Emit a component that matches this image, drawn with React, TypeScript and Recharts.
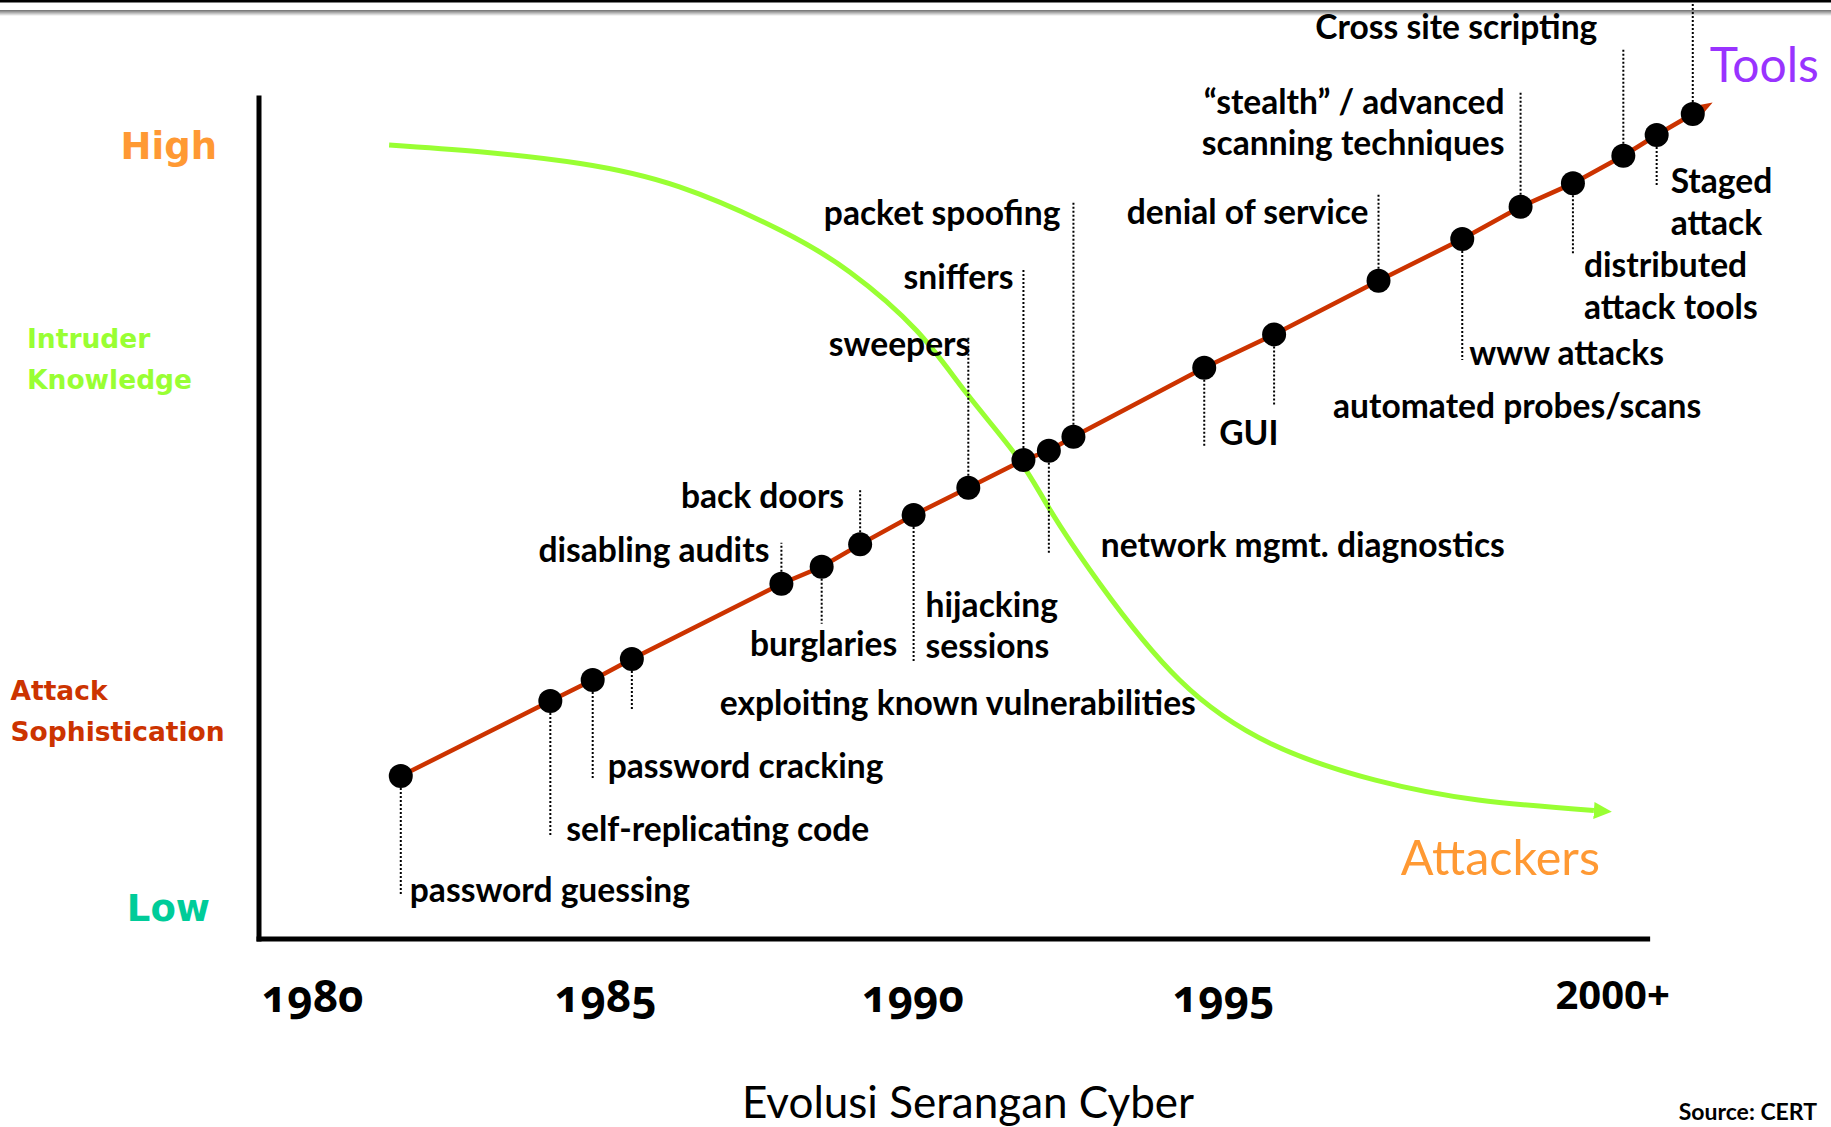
import { ComposedChart, Line, XAxis, YAxis, ReferenceLine, LabelList } from 'recharts'

// attack sophistication timeline (x: position on the timeline, y: sophistication level 0-100)
const eventNames = [
  'password guessing',
  'self-replicating code',
  'password cracking',
  'exploiting known vulnerabilities',
  'disabling audits',
  'burglaries',
  'back doors',
  'hijacking\nsessions',
  'sweepers',
  'sniffers',
  'network mgmt. diagnostics',
  'packet spoofing',
  'GUI',
  'automated probes/scans',
  'denial of service',
  'www attacks',
  '“stealth” / advanced\nscanning techniques',
  'distributed\nattack tools',
  'Cross site scripting',
  'Staged\nattack',
  'Tools',
]
const eventX = [10.21, 20.98, 24.03, 26.85, 37.62, 40.52, 43.29, 47.14, 51.08, 55.05, 56.88, 58.65, 68.07, 73.1, 80.62, 86.65, 90.85, 94.62, 98.25, 100.65, 103.25]
const eventY = [19.38, 28.29, 30.79, 33.29, 42.25, 44.26, 46.93, 50.42, 53.67, 56.96, 58.06, 59.72, 67.93, 71.9, 78.28, 83.24, 87.08, 89.86, 93.15, 95.61, 98.11]

// intruder knowledge curve
const knowledgeX = [9.37, 15.9, 23.13, 30.28, 37.51, 42.56, 47.35, 50.97, 54.58, 56.94, 60.56, 66.27, 72.92, 80.4, 87.81, 96.13]
const knowledgeY = [94.42, 93.61, 92.22, 89.44, 84.31, 79.3, 72.36, 64.86, 57.36, 51.11, 42.22, 30.83, 23.19, 18.89, 16.53, 15.28]

const yearTicks = [3.87, 24.98, 47.1, 69.47, 97.48]
const yearLabels = ['1980', '1985', '1990', '1995', '2000+']

const levelTicks = [3.6, 27.15, 68.96, 94.3]
const levelLabels = ['Low', 'Attack\nSophistication', 'Intruder\nKnowledge', 'High']

const attackData = eventNames.map((name, i) => ({ name, x: eventX[i], y: eventY[i] }))
const knowledgeData = knowledgeX.map((x, i) => ({ x, y: knowledgeY[i], name: i === knowledgeX.length - 1 ? 'Attackers' : '' }))

const LABEL_FONT = 'Lato, "Open Sans", sans-serif'
const LEVEL_FONT = '"DejaVu Sans", Verdana, sans-serif'
const RED = '#CC3300'
const GREEN = '#99FF33'

// where each annotation sits relative to its dot (px)
const labelLayout: { anchor: 'start' | 'end' | 'middle'; dx: number; dy: number[]; lead: number }[] = [
  { anchor: 'start', dx: 9, dy: [113], lead: 120 },
  { anchor: 'start', dx: 16, dy: [127], lead: 135 },
  { anchor: 'start', dx: 15, dy: [85], lead: 100 },
  { anchor: 'start', dx: 88, dy: [43], lead: 51 },
  { anchor: 'end', dx: -12, dy: [-35], lead: -41 },
  { anchor: 'middle', dx: 2, dy: [76], lead: 57 },
  { anchor: 'end', dx: -16, dy: [-49], lead: -55 },
  { anchor: 'start', dx: 12, dy: [89, 130], lead: 148 },
  { anchor: 'end', dx: 2, dy: [-145], lead: -150 },
  { anchor: 'end', dx: -10, dy: [-184], lead: -190 },
  { anchor: 'start', dx: 52, dy: [93], lead: 104 },
  { anchor: 'end', dx: -13, dy: [-225], lead: -236 },
  { anchor: 'start', dx: 15, dy: [64], lead: 79 },
  { anchor: 'start', dx: 59, dy: [71], lead: 71 },
  { anchor: 'end', dx: -10, dy: [-70], lead: -86 },
  { anchor: 'start', dx: 7, dy: [113], lead: 121 },
  { anchor: 'end', dx: -16, dy: [-106, -65], lead: -115 },
  { anchor: 'start', dx: 11, dy: [81, 123], lead: 70 },
  { anchor: 'end', dx: -26, dy: [-130], lead: -108 },
  { anchor: 'start', dx: 14, dy: [45, 87], lead: 52 },
  { anchor: 'start', dx: 17, dy: [-50], lead: -114 },
]

const levelStyles = [
  { color: '#00CC99', size: 37, anchor: 'end', dx: -49, dy: [0] },
  { color: RED, size: 26.5, anchor: 'start', dx: -248.5, dy: [-20.5, 20.5] },
  { color: GREEN, size: 26.5, anchor: 'start', dx: -232, dy: [-20.5, 20.5] },
  { color: '#FF9933', size: 37, anchor: 'end', dx: -42, dy: [0] },
]

const LevelTick = (p: any) => {
  const i = levelTicks.indexOf(p.payload.value)
  if (i < 0) return <g />
  const st = levelStyles[i]
  return (
    <g>
      {levelLabels[i].split('\n').map((ln, k) => (
        <text key={k} x={p.x + st.dx} y={p.y + st.dy[k]} textAnchor={st.anchor} dominantBaseline="central"
          fill={st.color} fontSize={st.size} fontWeight="bold" fontFamily={LEVEL_FONT}>{ln}</text>
      ))}
    </g>
  )
}

const YearTick = (p: any) => {
  const i = yearTicks.indexOf(p.payload.value)
  if (i < 0) return <g />
  const last = i === yearTicks.length - 1
  return (
    <text x={p.x} y={p.y + (last ? 70 : 73)} textAnchor="middle" fill="#000" fontSize={last ? 40 : 44} fontWeight="bold"
      fontFamily={'"Open Sans", Lato, sans-serif'} style={{ fontVariantNumeric: last ? 'normal' : 'oldstyle-nums' }}>{yearLabels[i]}</text>
  )
}

const renderDot = (p: any) => <circle key={`dot-${p.index}`} cx={p.cx} cy={p.cy} r={12} fill="#000" />

const renderAnnotation = (p: any) => {
  const i = p.index
  const lay = labelLayout[i]
  if (!lay) return null
  const x = Number(p.x)
  const y = Number(p.y)
  const isTools = i === eventNames.length - 1
  return (
    <g key={`ann-${i}`}>
      <line x1={x} y1={y} x2={x} y2={y + lay.lead} stroke="#000" strokeWidth={2} strokeDasharray="2 2" />
      {String(p.value).split('\n').map((ln, k) => (
        <text key={k} x={x + lay.dx} y={y + lay.dy[k]} textAnchor={lay.anchor} dominantBaseline="central"
          fill={isTools ? '#9933FF' : '#000'} fontSize={isTools ? 48 : 33.6} fontWeight={isTools ? 'normal' : 'bold'}
          fontFamily={LABEL_FONT}>{ln}</text>
      ))}
    </g>
  )
}

const renderAttackers = (p: any) => {
  if (!p.value) return null
  return (
    <text key="attackers" x={Number(p.x) + 6} y={Number(p.y) + 45} textAnchor="end" dominantBaseline="central"
      fill="#FF9933" fontSize={48.5} fontFamily={LABEL_FONT}>{p.value}</text>
  )
}

export default function App() {
  return (
    <div style={{ position: 'absolute', left: 0, top: 0, width: 1831, height: 1127, background: '#fff' }}>
      <ComposedChart width={1831} height={1127} margin={{ top: 14, right: 44.5, bottom: 0, left: 0 }}>
        <defs>
          <linearGradient id="shade" x1="0" y1="0" x2="0" y2="1">
            <stop offset="0%" stopColor="#6f6f6f" />
            <stop offset="100%" stopColor="#ffffff" />
          </linearGradient>
          <marker id="redArrow" markerWidth="26" markerHeight="18" refX="0" refY="9" orient="auto" markerUnits="userSpaceOnUse">
            <path d="M0,1 L23,9 L0,17 Z" fill={RED} />
          </marker>
          <marker id="greenArrow" markerWidth="20" markerHeight="18" refX="0" refY="9" orient="auto" markerUnits="userSpaceOnUse">
            <path d="M0,0.5 L18,9 L0,17.5 Z" fill={GREEN} />
          </marker>
        </defs>
        <rect x={0} y={0} width={1831} height={2.5} fill="#000" />
        <rect x={0} y={10} width={1831} height={6} fill="url(#shade)" />
        <XAxis type="number" dataKey="x" domain={[0, 110]} ticks={yearTicks} interval={0} height={188}
          axisLine={false} tickLine={false} tickSize={0} tickMargin={0} tick={<YearTick />} />
        <YAxis type="number" dataKey="y" domain={[0, 110]} ticks={levelTicks} interval={0} width={259}
          axisLine={false} tickLine={false} tickSize={0} tickMargin={0} tick={<LevelTick />} />
        <ReferenceLine segment={[{ x: 0, y: 0 }, { x: 0, y: 100 }]} stroke="#000" strokeWidth={5} strokeLinecap="square" ifOverflow="visible" />
        <ReferenceLine segment={[{ x: 0, y: 0 }, { x: 100, y: 0 }]} stroke="#000" strokeWidth={5} strokeLinecap="square" ifOverflow="visible" />
        <Line data={attackData} dataKey="y" type="linear" stroke={RED} strokeWidth={4.5} dot={renderDot} activeDot={false}
          markerEnd="url(#redArrow)" isAnimationActive={false}>
          <LabelList dataKey="name" content={renderAnnotation} />
        </Line>
        <Line data={knowledgeData} dataKey="y" type="natural" stroke={GREEN} strokeWidth={5} dot={false} activeDot={false}
          markerEnd="url(#greenArrow)" isAnimationActive={false}>
          <LabelList dataKey="name" content={renderAttackers} />
        </Line>
        <text x={968} y={1101} textAnchor="middle" dominantBaseline="central" fontSize={44} fontFamily={LABEL_FONT} fill="#000">
          Evolusi Serangan Cyber
        </text>
        <text x={1817} y={1111} textAnchor="end" dominantBaseline="central" fontSize={23} fontWeight="bold" fontFamily={LABEL_FONT} fill="#000">
          Source: CERT
        </text>
      </ComposedChart>
    </div>
  )
}
